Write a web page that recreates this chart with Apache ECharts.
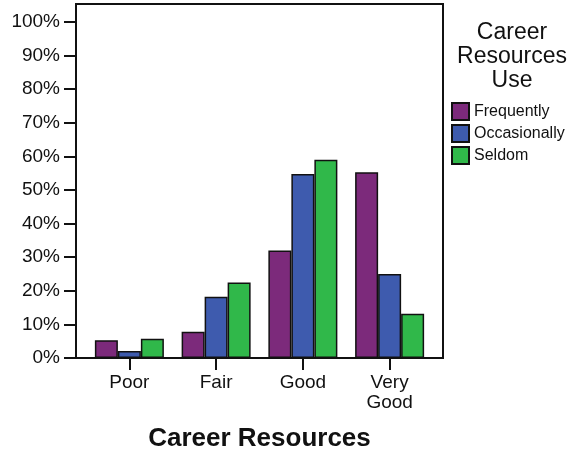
<!DOCTYPE html>
<html>
<head>
<meta charset="utf-8">
<script src="https://cdn.jsdelivr.net/npm/echarts@6/dist/echarts.min.js"></script>
<style>
  html, body { margin: 0; padding: 0; background: #fff; }
  #chart { width: 582px; height: 452px; }
</style>
</head>
<body>
<div id="chart"></div>
<script>
// data
var categories = ['Poor', 'Fair', 'Good', 'Very\nGood'];
var frequently = [5.3, 7.8, 32.0, 55.3];
var occasionally = [2.1, 18.2, 54.8, 25.0];
var seldom = [5.7, 22.5, 59.0, 13.2];
var yTicks = [0, 10, 20, 30, 40, 50, 60, 70, 80, 90, 100];

var font = 'Liberation Sans, Arial, sans-serif';
var chart = echarts.init(document.getElementById('chart'));

function barSeries(name, data, color) {
    return {
        name: name,
        type: 'bar',
        xAxisIndex: 1,
        yAxisIndex: 1,
        barWidth: 23,
        barGap: '0%',
        data: data,
        itemStyle: { color: color, borderColor: '#111', borderWidth: 1.5 }
    };
}

var option = {
    animation: false,
    title: {
        text: 'Career\nResources\nUse',
        left: 512,
        top: 21,
        padding: 0,
        textAlign: 'center',
        textStyle: { fontFamily: font, fontSize: 23, fontWeight: 'normal', color: '#111', lineHeight: 24 }
    },
    legend: {
        orient: 'vertical',
        left: 451,
        top: 102,
        padding: 0,
        itemWidth: 17,
        itemHeight: 17,
        itemGap: 3,
        icon: 'rect',
        textStyle: { fontFamily: font, fontSize: 16, color: '#111', lineHeight: 17 },
        data: ['Frequently', 'Occasionally', 'Seldom']
    },
    grid: [
        // frame
        { left: 76, top: 4, right: 139, bottom: 94, show: true, borderColor: '#111', borderWidth: 2,
          backgroundColor: 'transparent', outerBoundsMode: 'none' },
        // bars
        { left: 86, top: 4, right: 149, bottom: 94, outerBoundsMode: 'none' }
    ],
    xAxis: [
        { gridIndex: 0, type: 'value', show: false, min: 0, max: 1 },
        {
            gridIndex: 1,
            type: 'category',
            data: categories,
            axisLine: { show: false },
            axisTick: { show: true, alignWithLabel: true, length: 12, lineStyle: { color: '#111', width: 2 } },
            axisLabel: { fontFamily: font, fontSize: 19, color: '#111', margin: 15, lineHeight: 20 },
            name: 'Career Resources',
            nameLocation: 'middle',
            nameGap: 68,
            nameTextStyle: { fontFamily: font, fontSize: 26, fontWeight: 'bold', color: '#111' }
        }
    ],
    yAxis: [
        { gridIndex: 0, type: 'value', show: false, min: 0, max: 1 },
        {
            gridIndex: 1,
            type: 'value',
            min: 0,
            max: 105.36,
            interval: 10,
            offset: 10,
            axisLine: { show: false },
            axisTick: { show: true, length: 12, lineStyle: { color: '#111', width: 2 },
                customValues: yTicks },
            axisLabel: { fontFamily: font, fontSize: 19, color: '#111', margin: 16,
                customValues: yTicks,
                formatter: function (v) { return v + '%'; } },
            splitLine: { show: false }
        }
    ],
    series: [
        barSeries('Frequently', frequently, '#7C2A7B'),
        barSeries('Occasionally', occasionally, '#3E5BAE'),
        barSeries('Seldom', seldom, '#30B84A')
    ]
};
chart.setOption(option);
</script>
</body>
</html>
